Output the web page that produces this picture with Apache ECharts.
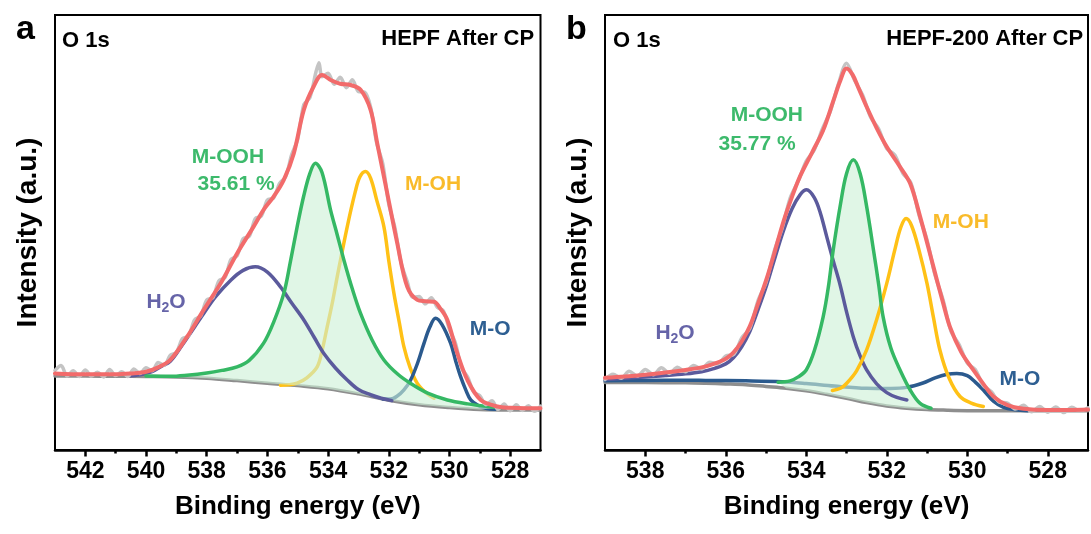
<!DOCTYPE html>
<html>
<head>
<meta charset="utf-8">
<script src="https://cdn.jsdelivr.net/npm/echarts@6/dist/echarts.min.js"></script>
<style>
  html, body { margin: 0; padding: 0; background: #fff; }
  #chart { width: 1091px; height: 534px; }
</style>
</head>
<body>
<div id="chart"></div>
<script>
// O 1s XPS spectra after chronopotentiometry: two fitted panels.
const FONT = '"Liberation Sans", Arial, Helvetica, sans-serif';

// ---------- axis ticks ----------
const energyRangeA = [527, 543];
const majorTicksA = [542, 540, 538, 536, 534, 532, 530, 528];
const minorTicksA = [541, 539, 537, 535, 533, 531, 529];
const energyRangeB = [527, 539];
const majorTicksB = [538, 536, 534, 532, 530, 528];
const minorTicksB = [537, 535, 533, 531, 529];

// ---------- panel a: HEPF after CP ----------
const rawA = [
  [543.0,18.3],[542.8,19.4],[542.6,17.0],[542.4,18.2],[542.2,16.9],[542.0,18.4],[541.8,17.0],[541.6,17.9],
  [541.4,16.8],[541.2,18.5],[541.0,17.1],[540.8,18.0],[540.6,16.9],[540.4,18.6],[540.2,17.6],[540.0,18.9],
  [539.8,18.2],[539.6,20.1],[539.4,19.5],[539.2,21.8],[539.0,22.4],[538.8,25.6],[538.6,26.2],[538.4,29.9],
  [538.2,30.8],[538.0,34.5],[537.8,35.0],[537.6,38.9],[537.4,39.6],[537.2,43.8],[537.0,44.6],[536.8,48.6],
  [536.6,49.1],[536.4,53.2],[536.2,53.8],[536.0,57.5],[535.8,57.9],[535.6,61.3],[535.4,62.8],[535.2,67.9],
  [535.0,71.5],[534.8,79.4],[534.6,81.0],[534.4,86.9],[534.3,89.0],[534.2,85.8],[534.0,86.6],[533.8,84.1],
  [533.6,85.7],[533.4,83.3],[533.2,85.1],[533.0,82.4],[532.8,82.3],[532.6,78.9],[532.4,70.6],[532.2,65.9],
  [532.0,56.5],[531.8,51.2],[531.6,43.2],[531.4,38.9],[531.2,35.1],[531.0,35.3],[530.8,33.6],[530.6,35.0],
  [530.4,32.8],[530.2,32.0],[530.0,27.7],[529.8,24.5],[529.6,18.8],[529.4,16.8],[529.2,13.3],[529.0,12.5],
  [528.8,10.4],[528.6,11.3],[528.4,9.3],[528.2,10.6],[528.0,9.0],[527.8,10.4],[527.6,9.1],[527.4,10.2],
  [527.2,8.9],[527.0,10.1]
];
const envelopeA = [
  [543,17.6],[542,17.4],[541,17.4],[540.5,17.6],[540,18.0],[539.6,19.0],[539.2,20.7],[538.65,26.0],
  [538.1,32.2],[537.5,38.8],[537.0,45.2],[536.46,51.3],[536.1,55.5],[535.8,58.2],[535.46,62.1],[535.13,68.2],
  [534.8,78.2],[534.48,83.5],[534.2,86.2],[533.9,85.0],[533.6,84.2],[533.26,83.9],[532.93,82.8],[532.6,78.2],
  [532.38,70.5],[532.05,59.0],[531.72,47.5],[531.39,37.5],[531.06,34.5],[530.8,34.2],[530.51,34.1],[530.3,32.5],
  [530.07,29.9],[529.74,22.2],[529.41,16.1],[528.97,11.5],[528.42,10.0],[528.0,9.7],[527.5,9.6],[527.0,9.6]
];
const baselineA = [
  [543,17.0],[542,17.0],[541,16.95],[540,16.9],[539,16.8],[538,16.5],[537,15.95],[536,15.35],
  [535,14.8],[534,14.1],[533,12.9],[532,11.45],[531,10.4],[530,9.75],[529,9.3],[528,9.2],[527,9.2]
];
const h2oA = [
  [540.6,17.0],[540.2,17.3],[539.8,18.0],[539.5,19.2],[539.2,20.4],[538.8,24.2],[538.4,28.3],[538.1,31.4],
  [537.7,35.3],[537.2,39.1],[536.8,41.3],[536.4,42.1],[536.0,40.9],[535.57,37.5],[535.2,33.8],[534.8,29.9],
  [534.45,25.8],[534.14,22.2],[533.75,18.8],[533.37,16.1],[533.0,13.9],[532.6,12.7],[532.25,11.9],[531.9,11.35]
];
const moohA = [
  [540.0,17.0],[539.2,16.95],[538.65,17.2],[538.0,17.7],[537.5,18.3],[537.0,19.1],[536.6,20.6],[536.13,24.5],
  [535.8,29.3],[535.46,36.0],[535.25,43.0],[535.02,51.3],[534.8,58.5],[534.6,63.6],[534.42,65.9],[534.2,63.8],
  [533.92,55.2],[533.7,49.5],[533.48,43.7],[533.2,37.0],[532.93,31.4],[532.55,25.3],[532.16,20.7],[531.7,17.4],
  [531.28,15.3],[530.7,13.0],[530.07,11.5],[529.4,10.6],[528.75,10.0],[528.3,9.7]
];
const mohA = [
  [535.57,14.9],[535.3,15.0],[535.02,15.4],[534.7,16.6],[534.36,19.1],[534.2,22.8],[534.03,28.3],[533.85,34.2],
  [533.7,39.8],[533.37,51.3],[533.1,59.5],[532.95,62.8],[532.77,64.0],[532.6,62.5],[532.4,57.5],[532.16,51.3],
  [532.0,43.5],[531.83,36.0],[531.65,29.2],[531.5,23.7],[531.3,19.0],[531.06,15.3],[530.8,13.3],[530.51,11.9]
];
const moA = [
  [532.2,11.75],[531.95,11.7],[531.72,12.4],[531.5,13.8],[531.28,16.1],[531.05,20.0],[530.84,24.5],[530.65,28.2],
  [530.46,30.3],[530.25,28.9],[529.96,24.5],[529.8,20.6],[529.63,16.8],[529.45,13.6],[529.3,11.5],[529.05,10.2],
  [528.8,9.6],[528.5,9.35]
];
const percentA = '35.61 %';

// ---------- panel b: HEPF-200 after CP ----------
const rawB = [
  [539.0,16.2],[538.8,17.4],[538.6,16.5],[538.4,18.1],[538.2,17.0],[538.0,18.5],[537.8,17.3],[537.6,18.9],
  [537.4,17.6],[537.2,19.0],[537.0,18.0],[536.8,19.4],[536.6,18.6],[536.4,20.2],[536.2,19.8],[536.0,21.6],
  [535.8,22.0],[535.6,25.8],[535.4,28.0],[535.2,34.3],[535.0,38.5],[534.8,45.6],[534.6,51.0],[534.4,57.9],
  [534.2,61.8],[534.0,66.4],[533.8,69.0],[533.6,73.8],[533.4,77.9],[533.2,84.2],[533.0,88.9],[532.8,85.0],
  [532.6,81.6],[532.4,76.5],[532.2,73.8],[532.0,69.3],[531.8,67.8],[531.6,63.6],[531.4,61.4],[531.2,54.1],
  [531.0,48.3],[530.8,40.2],[530.6,34.5],[530.4,27.2],[530.2,24.2],[530.0,20.0],[529.8,18.5],[529.6,14.8],
  [529.4,13.4],[529.2,11.0],[529.0,10.8],[528.8,9.4],[528.6,10.3],[528.4,8.8],[528.2,10.0],[528.0,8.7],
  [527.8,9.9],[527.6,8.6],[527.4,9.8],[527.2,8.9],[527.0,9.7]
];
const envelopeB = [
  [539,16.6],[538.5,16.9],[538,17.3],[537.5,17.8],[537,18.4],[536.6,19.0],[536.3,19.8],[536.0,21.0],
  [535.81,22.4],[535.6,25.0],[535.4,28.5],[535.2,33.6],[534.98,39.5],[534.8,45.0],[534.57,52.4],[534.35,58.3],
  [534.16,62.8],[533.85,68.5],[533.58,73.5],[533.33,80.2],[533.15,85.0],[533.0,87.7],[532.85,86.3],[532.7,83.2],
  [532.5,78.9],[532.25,74.0],[532.0,69.7],[531.67,65.1],[531.42,61.3],[531.17,53.6],[530.84,42.1],[530.6,33.8],
  [530.43,28.3],[530.15,22.5],[529.85,18.4],[529.6,15.2],[529.35,12.3],[529.0,10.3],[528.6,9.5],[528.0,9.2],
  [527.5,9.2],[527.0,9.3]
];
const baselineB = [
  [539,15.5],[538,15.5],[537,15.45],[536.5,15.35],[536,15.2],[535.5,15.0],[535,14.6],[534.5,14.2],
  [534,13.6],[533.5,12.8],[533,11.9],[532.5,10.9],[532,10.1],[531.5,9.6],[531,9.3],[530.5,9.15],
  [530,9.05],[529,9.0],[528,9.0],[527,9.0]
];
const h2oB = [
  [539,16.2],[538.5,16.5],[538,16.8],[537.5,17.1],[537,17.5],[536.6,18.0],[536.3,18.7],[536.0,19.8],
  [535.81,21.2],[535.6,23.8],[535.4,27.3],[535.2,32.2],[534.98,38.0],[534.8,43.5],[534.57,50.3],[534.35,55.5],
  [534.15,58.7],[533.99,59.8],[533.8,58.0],[533.65,54.5],[533.49,49.0],[533.33,43.5],[533.16,38.0],[533.0,31.8],
  [532.83,26.0],[532.67,21.8],[532.5,18.4],[532.25,15.2],[532.0,13.2],[531.75,12.1],[531.5,11.5]
];
const moohB = [
  [534.7,15.6],[534.4,15.9],[534.2,16.8],[534.0,18.4],[533.8,22.8],[533.58,30.6],[533.45,37.5],[533.33,46.0],
  [533.15,56.5],[533.0,63.5],[532.83,66.7],[532.66,63.5],[532.5,56.0],[532.33,46.0],[532.2,38.0],[532.09,30.6],
  [531.9,23.5],[531.67,18.4],[531.4,13.5],[531.17,10.7],[530.9,9.6]
];
const mohB = [
  [533.35,13.7],[533.15,14.2],[533.0,15.3],[532.75,18.2],[532.5,23.0],[532.25,30.0],[532.0,38.3],[531.8,46.0],
  [531.65,51.2],[531.52,53.2],[531.38,51.5],[531.2,46.0],[531.0,38.3],[530.84,30.5],[530.68,23.0],[530.45,16.5],
  [530.18,12.3],[529.9,10.8],[529.6,10.0]
];
const moB = [
  [539,15.9],[538,16.0],[537,16.05],[536.5,16.0],[535.5,15.9],[534.6,15.7],[534,15.3],[533.3,14.7],
  [532.5,14.2],[531.9,14.15],[531.5,14.4],[531.1,15.4],[530.8,16.6],[530.5,17.4],[530.26,17.6],[530.0,17.1],
  [529.8,15.6],[529.6,13.8],[529.35,11.2],[529.1,9.8],[528.8,9.25],[528.5,9.05]
];
const percentB = '35.77 %';

// ---------- styling ----------
const C = {
  raw: '#c4c4c4', env: '#f26b6b', base: '#8e8e8e',
  h2o: '#5b5a9c', mooh: '#35b864', moh: '#ffc116', mo: '#2b5a8e',
  fill: 'rgba(205,240,214,0.62)',
  lblMooh: '#3dba6c', lblMoh: '#f9bb2a', lblH2o: '#6664a8', lblMo: '#2e5f92'
};

const panels = [
  {
    grid: { left: 55, right: 550.5, top: 15, bottom: 84 },
    range: energyRangeA, major: majorTicksA, minor: minorTicksA,
    raw: rawA, env: envelopeA, base: baselineA,
    h2o: h2oA, mooh: moohA, moh: mohA, mo: moA,
    belowFill: ['moh', 'mo'],
    letter: 'a', letterX: 16, sample: 'HEPF After CP', percent: percentA,
    spots: {
      o1s: [542.77, 94.1], sample: [527.21, 94.4],
      mooh: [537.3, 67.4], pct: [537.03, 61.1], moh: [530.54, 61.0],
      h2o: [539.34, 34.0], mo: [528.66, 27.7]
    }
  },
  {
    grid: { left: 605, right: 3, top: 15, bottom: 84 },
    range: energyRangeB, major: majorTicksB, minor: minorTicksB,
    raw: rawB, env: envelopeB, base: baselineB,
    h2o: h2oB, mooh: moohB, moh: mohB, mo: moB,
    belowFill: ['mo'],
    letter: 'b', letterX: 566, sample: 'HEPF-200 After CP', percent: percentB,
    spots: {
      o1s: [538.8, 94.1], sample: [527.12, 94.4],
      mooh: [534.98, 77.0], pct: [535.22, 70.3], moh: [530.16, 52.3],
      h2o: [537.26, 26.9], mo: [528.69, 16.2]
    }
  }
];

function line(data, color, width, z, xi, yi, smooth) {
  return {
    type: 'line', data, xAxisIndex: xi, yAxisIndex: yi, symbol: 'none',
    smooth: smooth === undefined ? 0.35 : smooth, z, silent: true,
    lineStyle: { color, width, cap: 'round', join: 'round' }
  };
}

// Shaded area between a fitted peak and the background curve.
function areaBetween(peak, base, xi, yi) {
  const lo = Math.min(peak[0][0], peak[peak.length - 1][0]);
  const hi = Math.max(peak[0][0], peak[peak.length - 1][0]);
  const inner = base.filter(p => p[0] > lo && p[0] < hi).slice().reverse();
  return {
    type: 'custom', xAxisIndex: xi, yAxisIndex: yi, z: 4, silent: true, data: [[lo, 0]],
    renderItem: (params, api) => ({
      type: 'polygon',
      shape: { points: peak.concat(inner).map(p => api.coord(p)) },
      style: { fill: C.fill, stroke: null }
    })
  };
}

// Text placed in data coordinates.
function annotations(items, xi, yi) {
  return {
    type: 'custom', xAxisIndex: xi, yAxisIndex: yi, z: 10, silent: true,
    data: items.map(it => it.at),
    renderItem: (params, api) => {
      const it = items[params.dataIndex];
      const pt = api.coord([api.value(0), api.value(1)]);
      return {
        type: 'text', x: pt[0], y: pt[1],
        style: {
          text: it.text, fill: it.color,
          font: 'bold ' + it.size + 'px ' + FONT,
          align: it.align || 'center', verticalAlign: 'middle',
          rich: it.rich
        }
      };
    }
  };
}

const series = [];
const xAxis = [];
const yAxis = [];
const grid = [];
const graphic = [];

panels.forEach((p, i) => {
  grid.push(Object.assign({ show: true, borderColor: '#000', borderWidth: 2, backgroundColor: 'transparent' }, p.grid));
  const xi = i * 2, yi = i;
  xAxis.push({
    type: 'value', gridIndex: i, min: p.range[0], max: p.range[1], inverse: true, position: 'bottom',
    name: 'Binding energy (eV)', nameLocation: 'middle', nameGap: 44,
    nameTextStyle: { fontFamily: FONT, fontWeight: 'bold', fontSize: 26, color: '#000' },
    axisLine: { show: true, onZero: false, lineStyle: { color: '#000', width: 2.5 } },
    axisTick: { show: true, customValues: p.major, length: 6.5, lineStyle: { color: '#000', width: 2.5 } },
    axisLabel: { show: true, customValues: p.major, margin: 10, fontFamily: FONT, fontWeight: 'bold', fontSize: 23, color: '#000' },
    splitLine: { show: false }
  });
  xAxis.push({
    type: 'value', gridIndex: i, min: p.range[0], max: p.range[1], inverse: true, position: 'bottom',
    axisLine: { show: false, onZero: false },
    axisTick: { show: true, customValues: p.minor, length: 3.5, lineStyle: { color: '#000', width: 2.5 } },
    axisLabel: { show: false }, splitLine: { show: false }
  });
  yAxis.push({
    type: 'value', gridIndex: i, min: 0, max: 100,
    name: 'Intensity (a.u.)', nameLocation: 'middle', nameGap: 13,
    nameTextStyle: { fontFamily: FONT, fontWeight: 'bold', fontSize: 28, color: '#000' },
    axisLine: { show: false }, axisTick: { show: false }, axisLabel: { show: false }, splitLine: { show: false }
  });

  const comp = { h2o: p.h2o, mooh: p.mooh, moh: p.moh, mo: p.mo };
  series.push(line(p.base, C.base, 3.5, 2, xi, yi));
  Object.keys(comp).forEach(k => {
    const under = p.belowFill.indexOf(k) >= 0;
    series.push(line(comp[k], C[k], 3.5, k === 'mooh' ? 6 : (under ? 3 : 5), xi, yi));
  });
  series.push(areaBetween(p.mooh, p.base, xi, yi));
  series.push(line(p.raw, C.raw, 3.5, 7, xi, yi, 0.3));
  series.push(line(p.env, C.env, 4, 8, xi, yi));

  const s = p.spots;
  series.push(annotations([
    { at: s.o1s, text: 'O 1s', color: '#000', size: 22, align: 'left' },
    { at: s.sample, text: p.sample, color: '#000', size: 22, align: 'right' },
    { at: s.mooh, text: 'M-OOH', color: C.lblMooh, size: 21 },
    { at: s.pct, text: p.percent, color: C.lblMooh, size: 21 },
    { at: s.moh, text: 'M-OH', color: C.lblMoh, size: 21 },
    { at: s.mo, text: 'M-O', color: C.lblMo, size: 21 },
    { at: s.h2o, text: '{m|H}{s|2}{m|O}', color: C.lblH2o, size: 21,
      rich: {
        m: { fontSize: 21, fontWeight: 'bold', fontFamily: FONT, fill: C.lblH2o, lineHeight: 26 },
        s: { fontSize: 14, fontWeight: 'bold', fontFamily: FONT, fill: C.lblH2o, lineHeight: 14, padding: [12, 0, 0, 0] }
      } }
  ], xi, yi));

  graphic.push({
    type: 'text', left: p.letterX, top: 13,
    style: { text: p.letter, font: 'bold 34px ' + FONT, fill: '#000' }
  });
});

const chart = echarts.init(document.getElementById('chart'), null, { renderer: 'canvas' });
chart.setOption({
  animation: false,
  backgroundColor: '#fff',
  grid, xAxis, yAxis, series, graphic
});
</script>
</body>
</html>
